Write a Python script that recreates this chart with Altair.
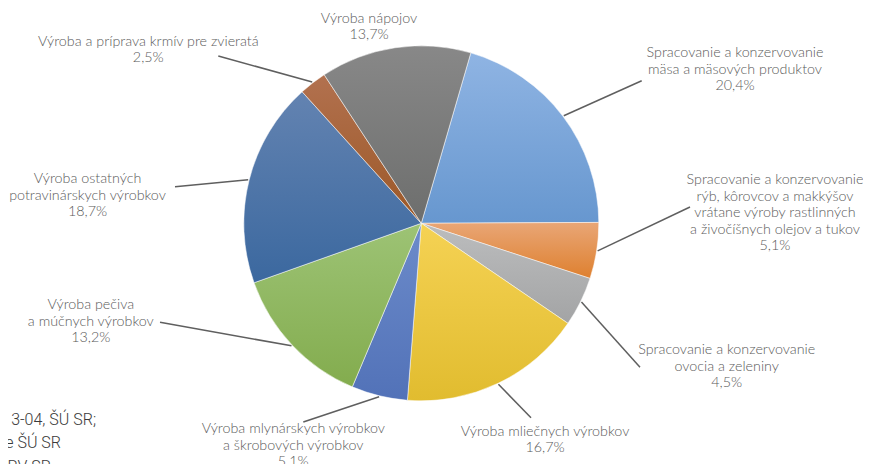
import math
import altair as alt
import pandas as pd

# ---- data ----
categories = [
    "Spracovanie a konzervovanie mäsa a mäsových produktov",
    "Spracovanie a konzervovanie rýb, kôrovcov a makkýšov vrátane výroby rastlinných a živočíšnych olejov a tukov",
    "Spracovanie a konzervovanie ovocia a zeleniny",
    "Výroba mliečnych výrobkov",
    "Výroba mlynárskych výrobkov a škrobových výrobkov",
    "Výroba pečiva a múčnych výrobkov",
    "Výroba ostatných potravinárskych výrobkov",
    "Výroba a príprava krmív pre zvieratá",
    "Výroba nápojov",
]
values = [20.4, 5.1, 4.5, 16.7, 5.1, 13.2, 18.7, 2.5, 13.7]
label_lines = [
    ["Spracovanie a konzervovanie", "mäsa a mäsových produktov"],
    ["Spracovanie a konzervovanie", "rýb, kôrovcov a makkýšov", "vrátane výroby rastlinných", "a živočíšnych olejov a tukov"],
    ["Spracovanie a konzervovanie", "ovocia a zeleniny"],
    ["Výroba mliečnych výrobkov"],
    ["Výroba mlynárskych výrobkov", "a škrobových výrobkov"],
    ["Výroba pečiva", "a múčnych výrobkov"],
    ["Výroba ostatných", "potravinárskych výrobkov"],
    ["Výroba a príprava krmív pre zvieratá"],
    ["Výroba nápojov"],
]
source_lines = ["D 3-04, ŠÚ SR;", "aje ŠÚ SR", "PRV SR"]

# ---- style / layout ----
grad_colors = [
    ("#8fb4e3", "#6797cf"),
    ("#e9a676", "#de802f"),
    ("#bcbdbe", "#a3a4a5"),
    ("#f5d254", "#e1bc2f"),
    ("#6c8bca", "#5272b8"),
    ("#9dc375", "#83ac4e"),
    ("#6383b1", "#3b689f"),
    ("#b2714f", "#9c5827"),
    ("#888888", "#6d6e6d"),
]
W, H = 855, 456
CX, CY, R = 413.3, 215.3, 177.5
START_DEG = 16.2
a0 = math.radians(START_DEG)
# centre of the first text line of each label (chart pixels)
label_pos = [(727, 45.3), (767, 172), (718.7, 342), (537, 423.7), (285.3, 421),
             (82.8, 297), (79.5, 171.3), (140.3, 33.7), (361, 10.5)]
leader_end = [(633.7, 72.7), (682, 199), (632, 359.3), (523, 409.7), (295.3, 414),
              (152, 314.3), (167, 178.7), (210.3, 48), None]
source_pos = [(88, 412), (53, 435), (43, 459)]

total = sum(values)

df = pd.DataFrame({"idx": list(range(len(values))), "cat": categories, "value": values})

lab_rows = []
cum = 0.0
rule_rows = []
for i, v in enumerate(values):
    pct = f"{v:.1f}".replace(".", ",") + "%"
    text = "\n".join(label_lines[i] + [pct])
    lab_rows.append({"label": text, "tx": label_pos[i][0], "ty": label_pos[i][1]})
    mid = a0 + 2 * math.pi * (cum + v / 2) / total
    cum += v
    if leader_end[i] is not None:
        rule_rows.append({
            "x1": CX + (R + 1) * math.sin(mid), "y1": CY - (R + 1) * math.cos(mid),
            "x2": leader_end[i][0], "y2": leader_end[i][1],
        })
lab_df = pd.DataFrame(lab_rows)
rule_df = pd.DataFrame(rule_rows)
src_df = pd.DataFrame({"t": source_lines, "x": [p[0] for p in source_pos], "y": [p[1] for p in source_pos]})

theta_scale = alt.Scale(domain=[0, total], range=[a0, a0 + 2 * math.pi], nice=False, zero=True)

layers = []
for i, (c_top, c_bot) in enumerate(grad_colors):
    grad = alt.LinearGradient(
        gradient="linear", x1=0, y1=0, x2=0, y2=1,
        stops=[alt.GradientStop(color=c_top, offset=0), alt.GradientStop(color=c_bot, offset=1)],
    )
    arc = (
        alt.Chart(df)
        .transform_window(cum="sum(value)", sort=[alt.SortField("idx", order="ascending")], frame=[None, 0])
        .transform_calculate(start="datum.cum - datum.value")
        .transform_filter(alt.datum.idx == i)
        .mark_arc(outerRadius=R, fill=grad, stroke="white", strokeWidth=0.5)
        .encode(
            theta=alt.Theta("start:Q", scale=theta_scale),
            theta2="cum:Q",
            x=alt.value(CX),
            y=alt.value(CY),
        )
    )
    layers.append(arc)

rules = alt.Chart(rule_df).mark_rule(color="#5f5f5f", strokeWidth=1.5).encode(
    x=alt.X("x1:Q", scale=None), y=alt.Y("y1:Q", scale=None),
    x2="x2:Q", y2="y2:Q",
)

labels = alt.Chart(lab_df).mark_text(
    align="center", baseline="middle", lineBreak="\n", lineHeight=16.6,
    font="Lato", fontSize=14.3, fontWeight=300, color="#5a5a5a",
).encode(
    x=alt.X("tx:Q", scale=None), y=alt.Y("ty:Q", scale=None), text="label:N",
)

source = alt.Chart(src_df).mark_text(
    align="right", baseline="middle", font="Roboto", fontSize=16, fontWeight=300, color="#3a3a3a",
).encode(
    x=alt.X("x:Q", scale=None), y=alt.Y("y:Q", scale=None), text="t:N",
)

chart = alt.layer(*layers, rules, labels, source).properties(
    width=W, height=H, padding=0,
    autosize=alt.AutoSizeParams(type="none"),
).configure_view(stroke=None)

chart.save("out.html", embed_options={"renderer": "svg", "actions": False})
